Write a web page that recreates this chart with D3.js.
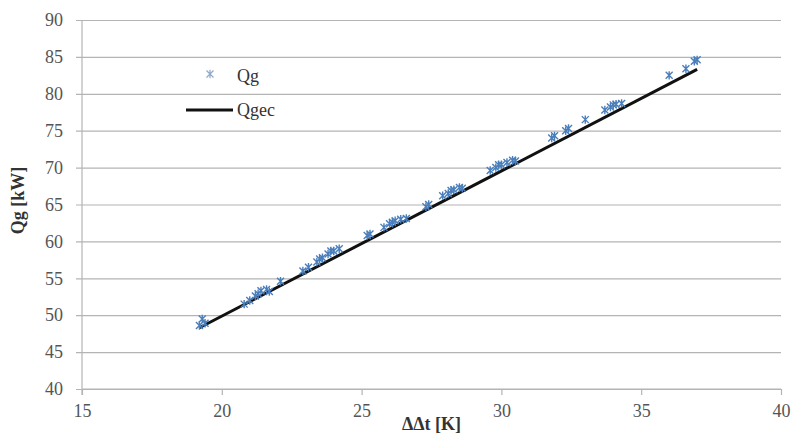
<!DOCTYPE html>
<html>
<head>
<meta charset="utf-8">
<script src="https://cdn.jsdelivr.net/npm/d3@7"></script>
<style>
  body { margin: 0; background: #fff; }
  #chart text { font-family: 'Liberation Serif', 'DejaVu Serif', serif !important; }
</style>
</head>
<body>
<svg id="chart"></svg>
<script>
// measured points (dt in K, Qg in kW)
const dtValues = [19.2, 19.3, 19.4, 20.8, 21.0, 21.2, 21.3, 21.4, 21.6, 21.7, 22.1,
  22.9, 23.1, 23.4, 23.5, 23.6, 23.8, 23.9, 24.0, 24.2, 25.2, 25.3,
  25.8, 26.0, 26.1, 26.2, 26.4, 26.6, 27.3, 27.4, 27.9, 28.1, 28.2, 28.3, 28.5, 28.6,
  29.6, 29.8, 29.9, 30.0, 30.2, 30.4, 30.5, 31.8, 31.9, 32.3, 32.4, 33.0,
  33.7, 33.9, 34.0, 34.1, 34.3, 36.0, 36.6, 36.9, 37.0];
const qgValues = [48.6, 49.5, 48.9, 51.5, 52.0, 52.6, 52.9, 53.3, 53.5, 53.2, 54.6,
  56.0, 56.5, 57.2, 57.6, 57.8, 58.3, 58.7, 58.7, 59.0, 60.8, 61.0,
  61.9, 62.4, 62.6, 62.8, 63.0, 63.1, 64.7, 65.0, 66.2, 66.5, 66.9, 67.0, 67.3, 67.2,
  69.6, 70.0, 70.4, 70.4, 70.7, 71.0, 70.9, 74.0, 74.3, 75.0, 75.3, 76.5,
  77.8, 78.2, 78.5, 78.6, 78.7, 82.5, 83.4, 84.4, 84.6];

// fitted line endpoints
const fitDt = [19.2, 37.0];
const fitQg = [48.3, 83.3];

const xTicks = [15, 20, 25, 30, 35, 40];
const yTicks = [40, 45, 50, 55, 60, 65, 70, 75, 80, 85, 90];

const config = {
  width: 798, height: 434,
  margin: {top: 20, right: 17, bottom: 45, left: 82}
};

const innerW = config.width - config.margin.left - config.margin.right;
const innerH = config.height - config.margin.top - config.margin.bottom;

const svg = d3.select('#chart')
  .attr('width', config.width)
  .attr('height', config.height);

const chart = svg.append('g')
  .attr('transform', `translate(${config.margin.left},${config.margin.top})`);

const xScale = d3.scaleLinear().domain([15, 40]).range([0, innerW]);
const yScale = d3.scaleLinear().domain([40, 90]).range([innerH, 0]);

// gridlines + y labels
const yAxisG = chart.append('g')
  .call(d3.axisLeft(yScale).tickValues(yTicks).tickSize(-innerW - 6).tickPadding(13))
  .attr('transform', 'translate(-6,0)')
  .attr('font-size', 18)
  .call(g => g.select('.domain').remove());
yAxisG.selectAll('.tick line').attr('stroke', '#b4b4b4').attr('stroke-width', 1.2).attr('x1', 0).attr('x2', innerW + 6);
yAxisG.selectAll('.tick text')
  .attr('x', -13)
  .attr('fill', '#555');

// x axis
const xAxisG = chart.append('g')
  .attr('transform', `translate(0,${innerH})`)
  .call(d3.axisBottom(xScale).tickValues(xTicks).tickSize(6).tickPadding(9))
  .attr('font-size', 18);
xAxisG.select('.domain').attr('stroke', '#b4b4b4').attr('stroke-width', 1.2).attr('d', `M0,0H${innerW}`);
xAxisG.selectAll('.tick line').attr('stroke', '#b4b4b4').attr('stroke-width', 1.2);
xAxisG.selectAll('.tick text').attr('fill', '#555');

// y axis line
chart.append('line')
  .attr('x1', 0).attr('x2', 0)
  .attr('y1', 0).attr('y2', innerH + 6)
  .attr('stroke', '#b4b4b4').attr('stroke-width', 1.2);

// axis titles
svg.append('text')
  .attr('transform', `translate(24,${config.margin.top + innerH / 2 - 4}) rotate(-90)`)
  .attr('text-anchor', 'middle')
  .attr('font-size', 18)
  .attr('font-weight', 'bold')
  .attr('fill', '#333')
  .text('Qg [kW]');

svg.append('text')
  .attr('x', config.margin.left + innerW / 2)
  .attr('y', 430)
  .attr('text-anchor', 'middle')
  .attr('font-size', 18)
  .attr('font-weight', 'bold')
  .attr('fill', '#333')
  .text('ΔΔt [K]');

// star marker (x with vertical bar)
function star(sel, s) {
  sel.append('path')
    .attr('d', `M${-s},${-s}L${s},${s}M${-s},${s}L${s},${-s}M0,${-s * 1.2}L0,${s * 1.2}`)
    .attr('fill', 'none');
}

const points = dtValues.map((d, i) => ({dt: d, qg: qgValues[i]}));

// fitted line
const fit = fitDt.map((d, i) => ({dt: d, qg: fitQg[i]}));
chart.append('path')
  .datum(fit)
  .attr('d', d3.line().x(d => xScale(d.dt)).y(d => yScale(d.qg)))
  .attr('stroke', '#111')
  .attr('stroke-width', 3)
  .attr('fill', 'none');

// points
chart.selectAll('.pt')
  .data(points)
  .join('g')
  .attr('class', 'pt')
  .attr('transform', d => `translate(${xScale(d.dt)},${yScale(d.qg)})`)
  .attr('stroke', '#4a7ebb')
  .attr('stroke-width', 1.4)
  .each(function() { star(d3.select(this), 3.5); });

// legend
const legend = svg.append('g');
legend.append('g')
  .attr('transform', 'translate(210,74)')
  .attr('stroke', '#8fa8cc')
  .attr('stroke-width', 1.2)
  .call(g => star(g, 3.5));
legend.append('text')
  .attr('x', 237).attr('y', 82)
  .attr('font-size', 18)
  .attr('fill', '#333')
  .text('Qg');
legend.append('line')
  .attr('x1', 186).attr('x2', 233)
  .attr('y1', 110).attr('y2', 110)
  .attr('stroke', '#111').attr('stroke-width', 3);
legend.append('text')
  .attr('x', 237).attr('y', 116)
  .attr('font-size', 18)
  .attr('fill', '#333')
  .text('Qgec');
</script>
</body>
</html>
